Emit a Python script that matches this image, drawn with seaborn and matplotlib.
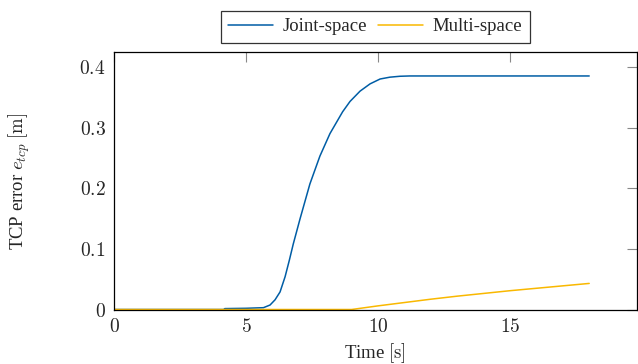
import numpy as np
import pandas as pd
import matplotlib
matplotlib.use("Agg")
import matplotlib.pyplot as plt
import seaborn as sns

# values
joint_t = [0.0, 4.15, 4.2, 5.0, 5.66, 5.91, 6.10, 6.29, 6.48, 6.64, 6.79, 7.05, 7.42,
           7.80, 8.18, 8.66, 8.94, 9.32, 9.70, 10.08, 10.45, 10.83, 11.2, 18.0]
joint_e = [0.0, 0.0, 0.0015, 0.002, 0.003, 0.0074, 0.016, 0.029, 0.054, 0.081, 0.108,
           0.150, 0.207, 0.253, 0.290, 0.326, 0.343, 0.360, 0.372, 0.380, 0.383, 0.3845,
           0.385, 0.385]
multi_t = [0.0, 9.0, 10.0, 11.0, 12.0, 13.0, 14.0, 15.0, 16.0, 17.0, 18.0]
multi_e = [0.0, 0.0, 0.006, 0.0115, 0.017, 0.022, 0.0265, 0.031, 0.035, 0.039, 0.043]

series_names = ["Joint-space", "Multi-space"]
colors = ["#005DA5", "#F9B800"]
x_ticks = [0, 5, 10, 15]
y_ticks = [0, 0.1, 0.2, 0.3, 0.4]
y_ticklabels = ["0", "0.1", "0.2", "0.3", "0.4"]

df = pd.concat([
    pd.DataFrame({"t": joint_t, "e": joint_e, "method": series_names[0]}),
    pd.DataFrame({"t": multi_t, "e": multi_e, "method": series_names[1]}),
], ignore_index=True)

sns.set_style("white")
plt.rcParams["font.family"] = ["Liberation Serif", "DejaVu Serif"]
plt.rcParams["mathtext.fontset"] = "cm"
plt.rcParams["lines.solid_joinstyle"] = "round"

fig = plt.figure(figsize=(6.38, 3.64), dpi=100)
ax = fig.add_axes([0.1787, 0.1497, 0.8193, 0.7066])

sns.lineplot(data=df, x="t", y="e", hue="method", palette=colors,
             estimator=None, sort=False, linewidth=1.1, ax=ax)

ax.set_xlim(0, 19.8)
ax.set_ylim(0, 0.424)
ax.set_xticks(x_ticks)
ax.set_xticklabels([f"${v}$" for v in x_ticks])
ax.set_yticks(y_ticks)
ax.set_yticklabels([f"${v}$" for v in y_ticklabels])
ax.tick_params(direction="in", length=7, width=0.8, color="#888888",
               top=True, right=True, labelsize=14, pad=6)
for s in ax.spines.values():
    s.set_color("black")
    s.set_linewidth(0.9)

ax.set_xlabel(r"Time $[\mathrm{s}]$", fontsize=13.5, labelpad=4)
ax.set_ylabel(r"TCP error $e_{tcp}$ $[\mathrm{m}]$", fontsize=13.5)
ax.yaxis.set_label_coords(-0.157, 0.5)

handles, labels = ax.get_legend_handles_labels()
leg = ax.legend(handles, labels, loc="lower center", bbox_to_anchor=(0.5, 1.015),
                ncol=2, frameon=True, fancybox=False, fontsize=13.5,
                handlelength=2.4, handletextpad=0.5, columnspacing=0.6,
                borderpad=0.4, borderaxespad=0.3)
leg.get_frame().set_edgecolor("black")
leg.get_frame().set_linewidth(0.9)

fig.savefig("out.png", dpi=100)
plt.close(fig)
